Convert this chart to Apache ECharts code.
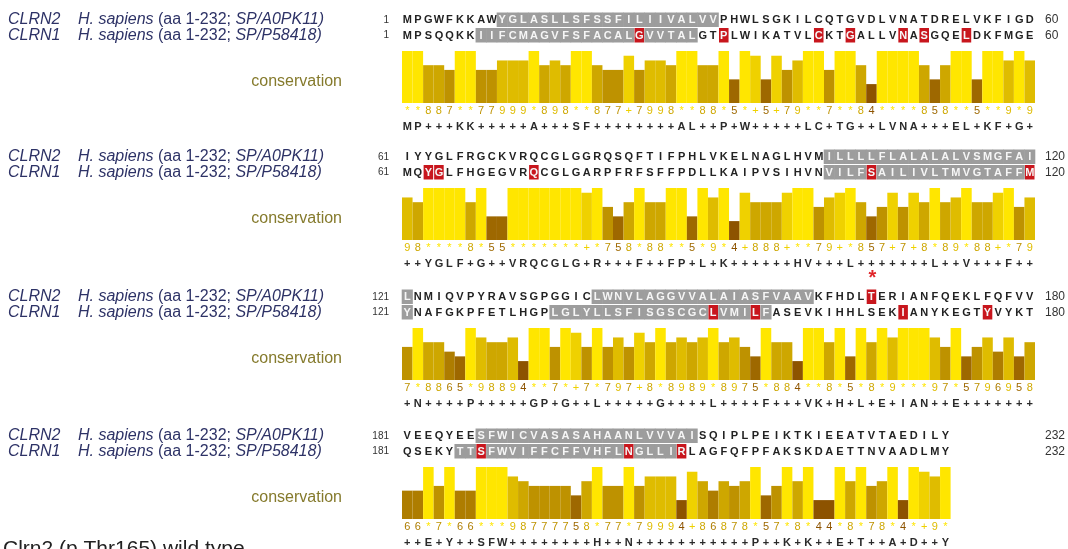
<!DOCTYPE html>
<html>
<head>
<meta charset="utf-8">
<title>CLRN2 / CLRN1 alignment</title>
<script src="https://cdn.jsdelivr.net/npm/echarts@6/dist/echarts.min.js"></script>
<style>
    html, body { margin: 0; padding: 0; background: #fff; }
    #chart { width: 1068px; height: 549px; }
</style>
</head>
<body>
<div id="chart"></div>
<script>
// ---- data ----
const blockStarts = [1, 61, 121, 181];
const blockEnds = [60, 120, 180, 232];

const clrn2Blocks = [
    'MPGWFKKAWYGLASLLSFSSFILIIVALVVPHWLSGKILCQTGVDLVNATDRELVKFIGD',
    'IYYGLFRGCKVRQCGLGGRQSQFTIFPHLVKELNAGLHVMILLLLFLALALALVSMGFAI',
    'LNMIQVPYRAVSGPGGICLWNVLAGGVVALAIASFVAAVKFHDLTERIANFQEKLFQFVV',
    'VEEQYEESFWICVASASAHAANLVVVAISQIPLPEIKTKIEEATVTAEDILY'
];
const clrn1Blocks = [
    'MPSQQKKIIFCMAGVFSFACALGVVTALGTPLWIKATVLCKTGALLVNASGQELDKFMGE',
    'MQYGLFHGEGVRQCGLGARPFRFSFFPDLLKAIPVSIHVNVILFSAILIVLTMVGTAFFM',
    'YNAFGKPFETLHGPLGLYLLSFISGSCGCLVMILFASEVKIHHLSEKIANYKEGTYVYKT',
    'QSEKYTTSFWVIFFCFFVHFLNGLLIRLAGFQFPFAKSKDAETTNVAADLMY'
];
// conservation score per column: '*' = 11, '+' = 10, digits 0-9
const conservationBlocks = [
    '**887**77999*898**877+7998**88*5*+5+79**7**84****858**5**9*9',
    '98****8*55*******+*758*88**5*9*4+888+**79+*857+7+8*89*88+*79',
    '7*8865*98894**7*+7*797+8*8989*8975*884**8*5*8*9***97*5796958',
    '66*7*66***98777758*77*79994+86878*57*8*44*8*78*4*+9*'
];
const consensusBlocks = [
    'MP+++KK+++++A+++SF++++++++AL++P+W+++++LC+TG++LVNA+++EL+KF+G+',
    '++YGLF+G++VRQCGLG+R+++F++FP+L+K++++++HV+++L+++++++L++V+++F++',
    '+N++++P+++++GP+G++L+++++G++++L++++F+++VK+H+L+E+IAN++E+++++++',
    '++E+Y++SFW++++++++H++N+++++++++++P++K+K++E+T++A+D++Y'
];

// highlighted residues (alignment positions)
const grayClrn2 = [[10, 30], [101, 120], [121, 121], [139, 159], [188, 208]];
const grayClrn1 = [[8, 28], [101, 120], [121, 121], [135, 155], [186, 207]];
const redClrn2 = [165];
const redClrn1 = [23, 31, 40, 43, 48, 50, 54, 63, 64, 73, 105, 120, 150, 154, 168, 176, 188, 202, 207];
const starred = [165];

const seqNames = ['CLRN2', 'CLRN1'];
const seqIds = ['SP/A0PK11', 'SP/P58418'];
const species = 'H. sapiens';
const seqRange = 'aa 1-232';
const annotName = 'conservation';
const footnote = 'Clrn2 (p.Thr165) wild type';

// ---- layout ----
const blockTop = [20, 157, 297, 436];   // centre of first sequence row
const LEFT = 402;
const COLS = 60;
const CELL = 10.55;
const FONT = "'Liberation Sans', Arial, sans-serif";

let chart = echarts.init(document.querySelector('#chart'));

function consValue(c) {
    if (c === '*') return 11;
    if (c === '+') return 10;
    return Number(c);
}
// Jalview style: dark orange-brown -> yellow
function consColor(v) {
    const p = v / 11;
    const r = Math.round(255 * (0.3 + 0.7 * p));
    const g = Math.round(255 * 0.9 * p);
    return 'rgb(' + r + ',' + g + ',0)';
}
function inRanges(pos, ranges) {
    return ranges.some(r => pos >= r[0] && pos <= r[1]);
}

function cellRenderer(items) {
    return function (params, api) {
        const it = items[params.dataIndex];
        const p = api.coord([api.value(0), api.value(1)]);
        const s = api.size([1, 1]);
        const children = [];
        if (it.bg) {
            const w = it.red ? s[0] - 1 : s[0] + 0.6;
            children.push({
                type: 'rect',
                shape: { x: p[0] - w / 2, y: p[1] - s[1] / 2 + 0.5, width: w, height: s[1] - 1 },
                style: { fill: it.bg }
            });
        }
        children.push({
            type: 'text',
            style: {
                text: it.ch, x: p[0], y: p[1] + 0.5,
                align: 'center', verticalAlign: 'middle',
                fill: it.color, font: it.font
            }
        });
        if (it.star) {
            children.push({
                type: 'text',
                style: {
                    text: '*', x: p[0] + 1, y: p[1] - 18,
                    align: 'center', verticalAlign: 'middle',
                    fill: '#e0262a', font: 'bold 20px ' + FONT
                }
            });
        }
        return { type: 'group', children: children };
    };
}

const grid = [], xAxis = [], yAxis = [], series = [];

blockStarts.forEach((start, b) => {
    const y0 = blockTop[b];
    const cats = Array.from({ length: COLS }, (_, i) => start + i);
    const g0 = grid.length;

    grid.push({ left: LEFT, width: COLS * CELL, top: y0 - 8, height: 31, outerBoundsMode: 'none' });
    grid.push({ left: LEFT, width: COLS * CELL, top: y0 + 31, height: 52, outerBoundsMode: 'none' });
    grid.push({ left: LEFT, width: COLS * CELL, top: y0 + 83, height: 31, outerBoundsMode: 'none' });

    for (let k = 0; k < 3; k++) {
        xAxis.push({
            type: 'category', gridIndex: g0 + k, data: cats, boundaryGap: true,
            axisLine: { show: false }, axisTick: { show: false },
            axisLabel: { show: false }, splitLine: { show: false }
        });
    }

    // sequence rows: names on the left, start / end numbers
    const ySeq = yAxis.length;
    yAxis.push({
        type: 'category', gridIndex: g0, data: seqNames, inverse: true, position: 'left',
        axisLine: { show: false }, axisTick: { show: false },
        axisLabel: {
            interval: 0, margin: LEFT - 8, align: 'left',
            formatter: (v, i) => '{n|' + seqNames[i] + '}{s|' + species + ' }{u|(' + seqRange + '; }{s|' + seqIds[i] + ')}',
            rich: {
                n: { fontStyle: 'italic', fontSize: 16, fontFamily: FONT, color: '#2d3266', width: 70 },
                s: { fontStyle: 'italic', fontSize: 16, fontFamily: FONT, color: '#2d3266' },
                u: { fontSize: 16, fontFamily: FONT, color: '#2d3266' }
            }
        }
    });
    yAxis.push({
        type: 'category', gridIndex: g0, data: seqNames, inverse: true, position: 'left', offset: 0,
        axisLine: { show: false }, axisTick: { show: false },
        axisLabel: { interval: 0, margin: 13, formatter: () => String(start), fontSize: 10, fontFamily: FONT, color: '#333' }
    });
    yAxis.push({
        type: 'category', gridIndex: g0, data: seqNames, inverse: true, position: 'right', offset: 0,
        axisLine: { show: false }, axisTick: { show: false },
        axisLabel: { interval: 0, margin: 10, align: 'left', formatter: () => String(blockEnds[b]), fontSize: 12, fontFamily: FONT, color: '#333' }
    });

    // conservation bars
    const yBar = yAxis.length;
    yAxis.push({
        type: 'value', gridIndex: g0 + 1, min: 0, max: 11, position: 'left',
        axisLine: { show: false }, axisTick: { show: false }, axisLabel: { show: false }, splitLine: { show: false },
        name: '{c|' + annotName + '}', nameLocation: 'middle', nameRotate: 0, nameGap: LEFT - 342,
        nameTextStyle: {
            align: 'right', verticalAlign: 'middle',
            rich: { c: { fontSize: 16, fontFamily: FONT, color: '#857a2c', padding: [10, 0, 0, 0] } }
        }
    });

    // annotation text rows
    const yAnn = yAxis.length;
    yAxis.push({
        type: 'category', gridIndex: g0 + 2, data: ['score', 'consensus'], inverse: true, show: false
    });

    // sequence cells
    const seqItems = [];
    [clrn2Blocks[b], clrn1Blocks[b]].forEach((seq, row) => {
        const gray = row === 0 ? grayClrn2 : grayClrn1;
        const red = row === 0 ? redClrn2 : redClrn1;
        seq.split('').forEach((ch, i) => {
            const pos = start + i;
            const isRed = red.includes(pos);
            const isGray = inRanges(pos, gray);
            seqItems.push({
                value: [i, row], ch: ch, red: isRed,
                bg: isRed ? '#c8161d' : (isGray ? '#9d9d9d' : null),
                color: (isRed || isGray) ? '#f6f6f6' : '#222',
                font: 'bold 11px ' + FONT,
                star: row === 0 && starred.includes(pos)
            });
        });
    });
    series.push({
        type: 'custom', xAxisIndex: g0, yAxisIndex: ySeq, silent: true, clip: false,
        renderItem: cellRenderer(seqItems),
        data: seqItems.map(d => d.value)
    });

    const scores = conservationBlocks[b].split('');
    series.push({
        type: 'bar', xAxisIndex: g0 + 1, yAxisIndex: yBar, silent: true,
        barCategoryGap: '0%',
        data: scores.map(c => ({ value: consValue(c), itemStyle: { color: consColor(consValue(c)) } }))
    });

    const annItems = [];
    scores.forEach((c, i) => {
        annItems.push({ value: [i, 0], ch: c, color: consColor(consValue(c)), font: '11px ' + FONT });
    });
    consensusBlocks[b].split('').forEach((c, i) => {
        annItems.push({ value: [i, 1], ch: c, color: '#2a2a2a', font: 'bold 11px ' + FONT });
    });
    series.push({
        type: 'custom', xAxisIndex: g0 + 2, yAxisIndex: yAnn, silent: true, clip: false,
        renderItem: cellRenderer(annItems),
        data: annItems.map(d => d.value)
    });
});

let option = {
    animation: false,
    backgroundColor: '#fff',
    grid: grid,
    xAxis: xAxis,
    yAxis: yAxis,
    series: series,
    graphic: [{
        type: 'text', left: 3, top: 539,
        style: { text: footnote, font: '21px ' + FONT, fill: '#222' }
    }]
};

chart.setOption(option);
window.addEventListener('resize', () => chart.resize());
</script>
</body>
</html>
